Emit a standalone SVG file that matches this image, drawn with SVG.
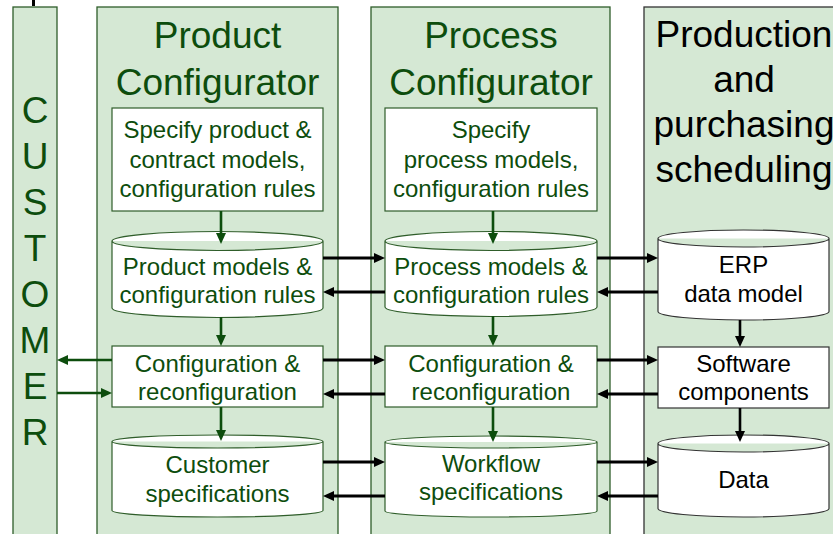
<svg xmlns="http://www.w3.org/2000/svg" width="833" height="534" viewBox="0 0 833 534">
<style>
.col{fill:#d5e8d4;stroke:#2f5d2a;stroke-width:1.3}
.box{fill:#fff;stroke:#2f5d2a;stroke-width:1.2}
.boxk{fill:#fff;stroke:#333;stroke-width:1.2}
.t{font-family:"Liberation Sans",Arial,sans-serif;font-size:24px;text-anchor:middle;fill:#0d4d0d}
.k{fill:#000}
.h{font-size:37px}
.ag{stroke:#0d4d0d;stroke-width:2.6;fill:none;marker-end:url(#mg)}
.ak{stroke:#000;stroke-width:3;fill:none;marker-end:url(#mk)}
.akv{stroke:#000;stroke-width:2.6;fill:none;marker-end:url(#mk)}
</style>
<defs>
<marker id="mg" viewBox="0 0 11 10" markerUnits="userSpaceOnUse" markerWidth="11" markerHeight="10" refX="5" refY="5" orient="auto"><path d="M0,0 L11,5 L0,10 Z" fill="#0d4d0d"/></marker>
<marker id="mk" viewBox="0 0 11 10" markerUnits="userSpaceOnUse" markerWidth="11" markerHeight="10" refX="5" refY="5" orient="auto"><path d="M0,0 L11,5 L0,10 Z" fill="#000"/></marker>
</defs>
<rect width="833" height="534" fill="#fff"/>
<path d="M33.5,0 V6" stroke="#000" stroke-width="3"/>

<g id="customer">
<rect class="col" x="13" y="7" width="44" height="540"/>
<text class="t h" x="35" y="123">C</text>
<text class="t h" x="35" y="169">U</text>
<text class="t h" x="35" y="215">S</text>
<text class="t h" x="35" y="261">T</text>
<text class="t h" x="35" y="307">O</text>
<text class="t h" x="35" y="353">M</text>
<text class="t h" x="35" y="399">E</text>
<text class="t h" x="35" y="445">R</text>
</g>

<g id="product-configurator">
<rect class="col" x="97" y="7" width="241" height="540"/>
<text class="t h" x="217.5" y="48">Product</text>
<text class="t h" x="217.5" y="95">Configurator</text>
</g>
<g id="process-configurator">
<rect class="col" x="371" y="7" width="239" height="540"/>
<text class="t h" x="491" y="48">Process</text>
<text class="t h" x="491" y="95">Configurator</text>
</g>
<g id="production-scheduling">
<rect class="col" x="644" y="7" width="220" height="540" style="stroke:#333"/>
<text class="t h k" x="744" y="47">Production</text>
<text class="t h k" x="744" y="92">and</text>
<text class="t h k" x="744" y="137">purchasing</text>
<text class="t h k" x="744" y="182">scheduling</text>
</g>

<g id="specify-product">
<rect class="box" x="112" y="108" width="211" height="103"/>
<text class="t" x="217.5" y="138">Specify product &amp;</text>
<text class="t" x="217.5" y="168">contract models,</text>
<text class="t" x="217.5" y="197">configuration rules</text>
</g>
<g id="product-models">
<path class="box" d="M112,241 A105.5,9.5 0 0 1 323,241 V308 A105.5,9.5 0 0 1 112,308 Z M112,241 A105.5,9.5 0 0 0 323,241"/>
<text class="t" x="217.5" y="275">Product models &amp;</text>
<text class="t" x="217.5" y="303">configuration rules</text>
</g>
<g id="product-config">
<rect class="box" x="112" y="346" width="211" height="61"/>
<text class="t" x="217.5" y="372">Configuration &amp;</text>
<text class="t" x="217.5" y="400">reconfiguration</text>
</g>
<g id="customer-specs">
<path class="box" d="M112,441.5 A105.5,6.5 0 0 1 323,441.5 V510.5 A105.5,6.5 0 0 1 112,510.5 Z M112,441.5 A105.5,6.5 0 0 0 323,441.5"/>
<text class="t" x="217.5" y="473">Customer</text>
<text class="t" x="217.5" y="502">specifications</text>
</g>

<g id="specify-process">
<rect class="box" x="385" y="108" width="212" height="103"/>
<text class="t" x="491" y="138">Specify</text>
<text class="t" x="491" y="168">process models,</text>
<text class="t" x="491" y="197">configuration rules</text>
</g>
<g id="process-models">
<path class="box" d="M385,241 A106,9.5 0 0 1 597,241 V307 A106,9.5 0 0 1 385,307 Z M385,241 A106,9.5 0 0 0 597,241"/>
<text class="t" x="491" y="275">Process models &amp;</text>
<text class="t" x="491" y="303">configuration rules</text>
</g>
<g id="process-config">
<rect class="box" x="385" y="346" width="212" height="61"/>
<text class="t" x="491" y="372">Configuration &amp;</text>
<text class="t" x="491" y="400">reconfiguration</text>
</g>
<g id="workflow-specs">
<path class="box" d="M385,442 A106,6 0 0 1 597,442 V511 A106,6 0 0 1 385,511 Z M385,442 A106,6 0 0 0 597,442"/>
<text class="t" x="491" y="472">Workflow</text>
<text class="t" x="491" y="500">specifications</text>
</g>

<g id="erp-data-model">
<path class="boxk" d="M658,238.5 A85.5,8.5 0 0 1 829,238.5 V311.5 A85.5,8.5 0 0 1 658,311.5 Z M658,238.5 A85.5,8.5 0 0 0 829,238.5"/>
<text class="t k" x="743.5" y="273">ERP</text>
<text class="t k" x="743.5" y="302">data model</text>
</g>
<g id="software-components">
<rect class="boxk" x="658" y="347" width="171" height="61"/>
<text class="t k" x="743.5" y="372">Software</text>
<text class="t k" x="743.5" y="400">components</text>
</g>
<g id="data">
<path class="boxk" d="M658,443.5 A85.5,8.5 0 0 1 829,443.5 V508.5 A85.5,8.5 0 0 1 658,508.5 Z M658,443.5 A85.5,8.5 0 0 0 829,443.5"/>
<text class="t k" x="743.5" y="488">Data</text>
</g>

<g id="connectors">
<line class="ag" x1="221" y1="211" x2="221" y2="238"/>
<line class="ag" x1="221" y1="317" x2="221" y2="340"/>
<line class="ag" x1="221" y1="407" x2="221" y2="435"/>
<line class="ag" x1="493" y1="211" x2="493" y2="238"/>
<line class="ag" x1="493" y1="316" x2="493" y2="340"/>
<line class="ag" x1="493" y1="407" x2="493" y2="436"/>
<line class="akv" x1="740" y1="320" x2="740" y2="341"/>
<line class="akv" x1="740" y1="408" x2="740" y2="436"/>

<line class="ag" x1="112" y1="360" x2="63" y2="360"/>
<line class="ag" x1="57" y1="393" x2="106" y2="393"/>

<line class="ak" x1="323" y1="258" x2="379" y2="258"/>
<line class="ak" x1="385" y1="292" x2="329" y2="292"/>
<line class="ak" x1="597" y1="258" x2="652" y2="258"/>
<line class="ak" x1="658" y1="292" x2="603" y2="292"/>

<line class="ak" x1="323" y1="360" x2="379" y2="360"/>
<line class="ak" x1="385" y1="394" x2="329" y2="394"/>
<line class="ak" x1="597" y1="360" x2="652" y2="360"/>
<line class="ak" x1="658" y1="394" x2="603" y2="394"/>

<line class="ak" x1="323" y1="462" x2="379" y2="462"/>
<line class="ak" x1="385" y1="496" x2="329" y2="496"/>
<line class="ak" x1="597" y1="462" x2="652" y2="462"/>
<line class="ak" x1="658" y1="496" x2="603" y2="496"/>
</g>
</svg>
